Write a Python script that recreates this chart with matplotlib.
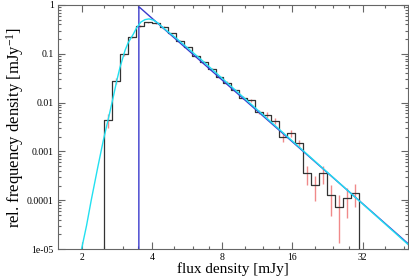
import numpy as np
import matplotlib
matplotlib.use("Agg")
import matplotlib.pyplot as plt
from matplotlib.ticker import FixedLocator, NullFormatter, FixedFormatter

plt.rcParams['font.family'] = ['Liberation Serif', 'DejaVu Serif']
plt.rcParams['mathtext.fontset'] = 'custom'
plt.rcParams['mathtext.rm'] = 'Liberation Serif'
plt.rcParams['mathtext.it'] = 'Liberation Serif:italic'

# ---- data ----
bin_lo, bin_hi, n_bins = 2.5, 30.8, 32
hist_vals = [0.00440, 0.0281, 0.0977, 0.224, 0.372, 0.442, 0.422, 0.360,
             0.263, 0.182, 0.135, 0.0912, 0.0692, 0.0490, 0.0339, 0.0257,
             0.0182, 0.0126, 0.0112, 0.00652, 0.00557, 0.00426, 0.00200, 0.00235,
             0.00147, 0.000356, 0.000205, 0.000356, 0.000128, 0.0000715, 0.000109, 0.000143]
hist_err = [1.45e-3, 3.5e-3, 6.3e-3, 9.2e-3, 1.15e-2, 1.2e-2, 1.15e-2, 1.0e-2,
            8.5e-3, 6.5e-3, 5.2e-3, 4.0e-3, 3.2e-3, 2.5e-3, 1.9e-3, 1.6e-3,
            1.2e-3, 9.5e-4, 8.5e-4, 6.2e-4, 7.0e-4, 6.0e-4, 4.6e-4, 3.5e-4,
            2.4e-4, 1.5e-4, 1.1e-4, 1.4e-4, 8.0e-5, 5.8e-5, 6.5e-5, 7.2e-5]

fit_s = [1.98, 2.0, 2.1, 2.2, 2.35, 2.48, 2.6, 2.73, 2.83, 2.92, 3.07, 3.17, 3.33,
         3.44, 3.59, 3.74, 3.89, 4.06, 4.25, 4.41, 4.7, 5.03, 6.5, 14.17, 51.0]
fit_v = [7.1e-6, 1.0e-5, 3.0e-5, 1.0e-4, 4.9e-4, 1.70e-3, 4.5e-3, 1.26e-2, 2.8e-2,
         5.2e-2, 0.117, 0.17, 0.251, 0.339, 0.447, 0.501, 0.519, 0.49, 0.427,
         0.363, 0.282, 0.219, 0.0766, 2.75e-3, 1.15e-5]

pl_s = [3.52, 3.52, 51.0]
pl_v = [1e-6, 0.923, 1.2e-5]

xticks_major = [2, 4, 8, 16, 32]
xticks_minor = [2.5, 3, 3.5, 5, 6, 7, 10, 12, 14, 20, 24, 28, 40, 48]
yticks_major = [1e-5, 1e-4, 1e-3, 1e-2, 1e-1, 1]
ytick_labels = ['1e-05', '0.0001', '0.001', '0.01', '0.1', '1']

# ---- figure ----
fig = plt.figure(figsize=(4.09, 2.79), dpi=100)
ax = fig.add_axes([58/409, 1-249/279, 350/409, 244/279])
ax.set_xscale('log')
ax.set_yscale('log')

edges = np.geomspace(bin_lo, bin_hi, n_bins + 1)
centers = np.sqrt(edges[:-1] * edges[1:])
hv = np.array(hist_vals)
he = np.array(hist_err)

ax.errorbar(centers, hv, yerr=he, fmt='none', ecolor='#f08a8a', elinewidth=1.0,
            capsize=0, zorder=1)
step_y = np.concatenate([[1e-7], hv, [1e-7]])
step_x = np.concatenate([[edges[0]], edges])
ax.step(np.concatenate([step_x, [edges[-1]]]), np.concatenate([step_y, [1e-7]]),
        where='post', color='#333333', lw=0.9, zorder=2)
ax.plot(pl_s, pl_v, color='#3a3acc', lw=1.0, zorder=3)
ax.plot(fit_s, fit_v, color='#22e0f0', lw=1.0, zorder=4)

ax.set_xlim(10**0.2, 10**1.7)
ax.set_ylim(1e-5, 1)

ax.xaxis.set_major_locator(FixedLocator(xticks_major))
ax.xaxis.set_major_formatter(FixedFormatter([str(t) for t in xticks_major]))
ax.xaxis.set_minor_locator(FixedLocator(xticks_minor))
ax.xaxis.set_minor_formatter(NullFormatter())
ax.yaxis.set_major_locator(FixedLocator(yticks_major))
ax.yaxis.set_major_formatter(FixedFormatter(ytick_labels))
ymin = [m * 10.0**e for e in range(-5, 0) for m in range(2, 10)]
ax.yaxis.set_minor_locator(FixedLocator(ymin))
ax.yaxis.set_minor_formatter(NullFormatter())

ax.tick_params(which='both', direction='in', top=True, right=True,
               color='#666666', width=0.8, labelsize=7, pad=3)
ax.tick_params(which='major', length=5)
ax.tick_params(which='minor', length=2.5)
for s in ax.spines.values():
    s.set_color('#666666')
    s.set_linewidth(0.8)

ax.set_xlabel('flux density [mJy]', fontsize=11, labelpad=0)
ax.set_ylabel('rel. frequency density [mJy$^{-1}$]', fontsize=12, labelpad=1)

fig.savefig('out.png', dpi=100)
